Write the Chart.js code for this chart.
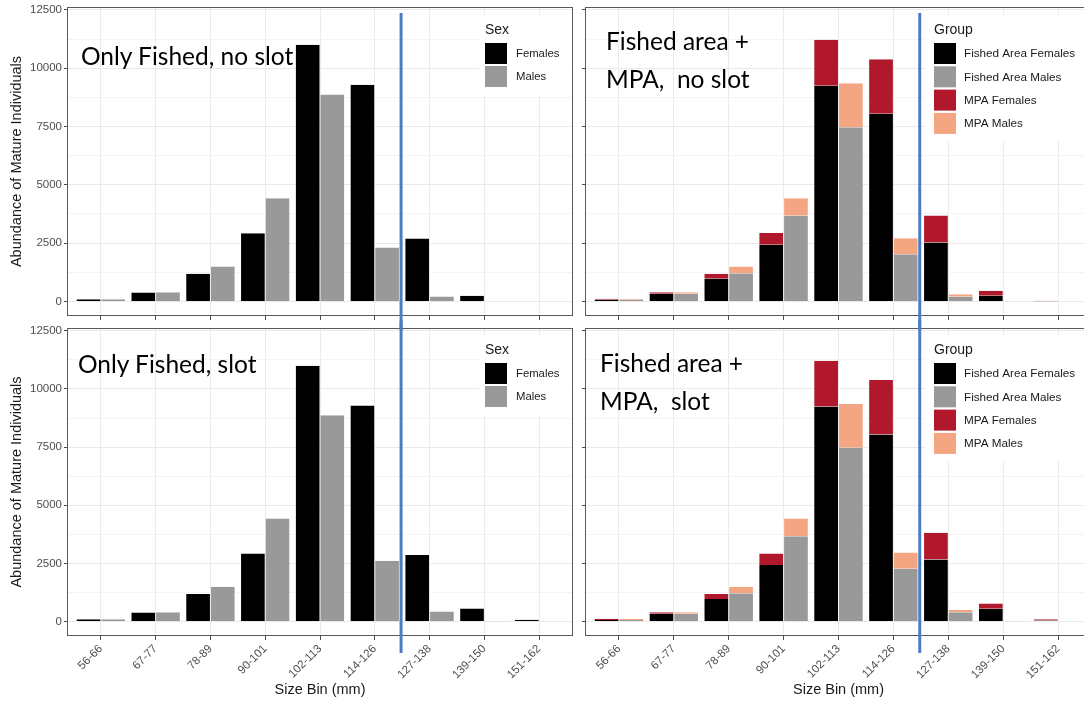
<!DOCTYPE html>
<html>
<head>
<meta charset="utf-8">
<script src="https://cdn.jsdelivr.net/npm/chart.js@4.4.1/dist/chart.umd.min.js"></script>
<style>
  html, body { margin: 0; padding: 0; background: #fff; }
  body { position: relative; width: 1084px; height: 702px; overflow: hidden; }
  canvas { position: absolute; }
  .note { position: absolute; font-family: Lato, "Open Sans", sans-serif; font-size: 24.5px; line-height: 38px; color: #000; white-space: pre; }
</style>
</head>
<body>
<canvas id="tl" width="580" height="330" style="left:0;top:0"></canvas>
<canvas id="tr" width="520" height="330" style="left:580px;top:0"></canvas>
<canvas id="bl" width="580" height="381" style="left:0;top:321px"></canvas>
<canvas id="br" width="520" height="381" style="left:580px;top:321px"></canvas>
<div class="note" style="left:81px;top:37px">Only Fished, no slot</div>
<div class="note" style="left:606px;top:22px">Fished area +
MPA,  no slot</div>
<div class="note" style="left:78px;top:345px">Only Fished, slot</div>
<div class="note" style="left:600px;top:344px">Fished area +
MPA,  slot</div>
<script>
const sizeBins = ['56-66', '67-77', '78-89', '90-101', '102-113', '114-126', '127-138', '139-150', '151-162'];
const yTicks = [0, 1250, 2500, 3750, 5000, 6250, 7500, 8750, 10000, 11250, 12500];

// only fished, no slot
const noSlotFemales = [100, 386, 1186, 2929, 11000, 9286, 2700, 243, 15];
const noSlotMales = [100, 400, 1500, 4429, 8871, 2310, 214, 0, 0];
// only fished, slot
const slotFemales = [100, 386, 1186, 2929, 11000, 9286, 2857, 557, 71];
const slotMales = [100, 400, 1500, 4429, 8871, 2614, 429, 10, 0];

// fished area + MPA, no slot
const noSlotFishedF = [70, 330, 970, 2430, 9243, 8043, 2530, 243, 5];
const noSlotFishedM = [70, 330, 1214, 3671, 7471, 2029, 200, 0, 0];
const noSlotMpaF = [44, 70, 216, 500, 1971, 2343, 1156, 214, 25];
const noSlotMpaM = [44, 70, 286, 758, 1886, 685, 114, 15, 0];
// fished area + MPA, slot
const slotFishedF = [70, 330, 970, 2430, 9243, 8043, 2671, 550, 45];
const slotFishedM = [70, 330, 1214, 3671, 7471, 2271, 400, 0, 0];
const slotMpaF = [44, 70, 216, 500, 1971, 2343, 1143, 230, 55];
const slotMpaM = [44, 70, 286, 758, 1886, 700, 100, 15, 0];

const slotEdge = 6.48; // between 114-126 and 127-138

const colFemale = '#000000';
const colMale = '#999999';
const colMpaF = '#B2182B';
const colMpaM = '#F4A582';

Chart.defaults.font.family = "'Liberation Sans', Arial, Helvetica, sans-serif";

const pts = arr => arr.map((v, i) => ({ x: i + 1, y: v }));

function bars(label, arr, color, stack) {
  const ds = {
    label: label,
    data: pts(arr),
    backgroundColor: color,
    borderColor: 'rgba(255,255,255,0.7)',
    borderWidth: { left: 0.5, right: 0.5, top: 0, bottom: 0 }
  };
  if (stack) ds.stack = stack;
  return ds;
}

// legend drawn inside the panel like ggplot's legend.position inside
const panelLegend = {
  id: 'panelLegend',
  afterDatasetsDraw(chart, args, o) {
    const ctx = chart.ctx;
    ctx.save();
    ctx.fillStyle = '#fff';
    ctx.fillRect(o.boxX, o.boxY, o.boxW, o.boxH);
    ctx.fillStyle = '#1a1a1a';
    ctx.font = "14px 'Liberation Sans', Arial, sans-serif";
    ctx.textBaseline = 'alphabetic';
    ctx.fillText(o.title, o.keyX, o.titleY);
    ctx.font = o.labelSize + "px 'Liberation Sans', Arial, sans-serif";
    ctx.textBaseline = 'middle';
    chart.data.datasets.forEach((ds, i) => {
      const y = o.keyY + i * o.step;
      ctx.fillStyle = ds.backgroundColor;
      ctx.fillRect(o.keyX, y, 22, 21);
      ctx.fillStyle = '#1a1a1a';
      ctx.fillText(ds.label, o.labelX, y + 11);
    });
    ctx.restore();
  }
};

const panelBorder = {
  id: 'panelBorder',
  afterDraw(chart) {
    const a = chart.chartArea, ctx = chart.ctx;
    ctx.save();
    ctx.strokeStyle = '#5a5a5a';
    ctx.lineWidth = 1;
    ctx.strokeRect(a.left - 0.5, a.top - 0.5, a.right - a.left + 1, a.bottom - a.top + 1);
    ctx.restore();
  }
};

const slotLine = {
  id: 'slotLine',
  afterDraw(chart, args, o) {
    const ctx = chart.ctx;
    const x = chart.scales.x.getPixelForValue(o.value);
    ctx.save();
    ctx.strokeStyle = '#4a7dc4';
    ctx.lineWidth = 3;
    ctx.beginPath();
    ctx.moveTo(x, o.y0);
    ctx.lineTo(x, o.y1);
    ctx.stroke();
    ctx.restore();
  }
};

function makeChart(id, datasets, cfg) {
  const isMinor = c => c.tick && c.tick.value % 2500 !== 0;
  return new Chart(document.getElementById(id), {
    type: 'bar',
    data: { datasets: datasets },
    options: {
      responsive: false,
      animation: false,
      events: [],
      datasets: { bar: { categoryPercentage: 0.9, barPercentage: 1 } },
      layout: { padding: { top: 8, right: cfg.padRight, left: 0, bottom: 0 } },
      plugins: {
        legend: { display: false },
        tooltip: { enabled: false },
        panelLegend: cfg.legend,
        slotLine: cfg.line
      },
      scales: {
        x: {
          type: 'linear',
          min: 0.4,
          max: 9.6,
          offset: false,
          afterBuildTicks: s => { s.ticks = sizeBins.map((b, i) => ({ value: i + 1 })); },
          afterFit: s => { s.height = cfg.xHeight; },
          grid: { offset: false, color: '#ebebeb', lineWidth: 1, tickLength: 5, tickColor: '#4d4d4d' },
          border: { display: false },
          ticks: {
            display: cfg.xLabels,
            autoSkip: false,
            minRotation: 45,
            maxRotation: 45,
            padding: 2,
            color: '#4d4d4d',
            font: { size: 11.5 },
            callback: v => sizeBins[v - 1]
          },
          title: {
            display: cfg.xLabels,
            text: 'Size Bin (mm)',
            color: '#1a1a1a',
            font: { size: 14.5 },
            padding: { top: 0, bottom: 3 }
          }
        },
        y: {
          type: 'linear',
          min: -580,
          max: 12580,
          stacked: cfg.stacked,
          afterBuildTicks: s => { s.ticks = yTicks.map(v => ({ value: v })); },
          afterFit: s => { s.width = cfg.yWidth; },
          grid: {
            color: c => isMinor(c) ? '#f4f4f4' : '#e9e9e9',
            lineWidth: 1,
            tickLength: 4,
            tickColor: c => isMinor(c) ? 'rgba(0,0,0,0)' : '#4d4d4d'
          },
          border: { display: false },
          ticks: {
            display: cfg.yLabels,
            padding: 2,
            color: '#4d4d4d',
            font: { size: 11.5, lineHeight: 1 },
            callback: v => (v % 2500 === 0 ? v : '')
          },
          title: {
            display: cfg.yLabels,
            text: 'Abundance of Mature Individuals',
            color: '#1a1a1a',
            font: { size: 14.5 },
            padding: { top: 8.5, bottom: 0 }
          }
        }
      }
    },
    plugins: [panelLegend, panelBorder, slotLine]
  });
}

const sexLegend = dy => ({ title: 'Sex', boxX: 479, boxY: 15 + dy, boxW: 92, boxH: 80,
  keyX: 485, keyY: 43 + dy, step: 23, labelX: 516, titleY: 34 + dy, labelSize: 11.3 });
const groupLegend = dy => ({ title: 'Group', boxX: 345, boxY: 15 + dy, boxW: 175, boxH: 126,
  keyX: 354, keyY: 43 + dy, step: 23.3, labelX: 384, titleY: 34 + dy, labelSize: 11.7 });

makeChart('tl', [
  bars('Females', noSlotFemales, colFemale),
  bars('Males', noSlotMales, colMale)
], { padRight: 8, xHeight: 15, yWidth: 68, xLabels: false, yLabels: true, stacked: false,
  legend: sexLegend(0), line: { value: slotEdge, y0: 13, y1: 330 } });

makeChart('tr', [
  bars('Fished Area Females', noSlotFishedF, colFemale, 'F'),
  bars('Fished Area Males', noSlotFishedM, colMale, 'M'),
  bars('MPA Females', noSlotMpaF, colMpaF, 'F'),
  bars('MPA Males', noSlotMpaM, colMpaM, 'M')
], { padRight: 9, xHeight: 15, yWidth: 6, xLabels: false, yLabels: false, stacked: true,
  legend: groupLegend(0), line: { value: slotEdge, y0: 13, y1: 330 } });

makeChart('bl', [
  bars('Females', slotFemales, colFemale),
  bars('Males', slotMales, colMale)
], { padRight: 8, xHeight: 67, yWidth: 68, xLabels: true, yLabels: true, stacked: false,
  legend: sexLegend(-1), line: { value: slotEdge, y0: 0, y1: 332 } });

makeChart('br', [
  bars('Fished Area Females', slotFishedF, colFemale, 'F'),
  bars('Fished Area Males', slotFishedM, colMale, 'M'),
  bars('MPA Females', slotMpaF, colMpaF, 'F'),
  bars('MPA Males', slotMpaM, colMpaM, 'M')
], { padRight: 9, xHeight: 67, yWidth: 6, xLabels: true, yLabels: false, stacked: true,
  legend: groupLegend(-1), line: { value: slotEdge, y0: 0, y1: 332 } });
</script>
</body>
</html>
